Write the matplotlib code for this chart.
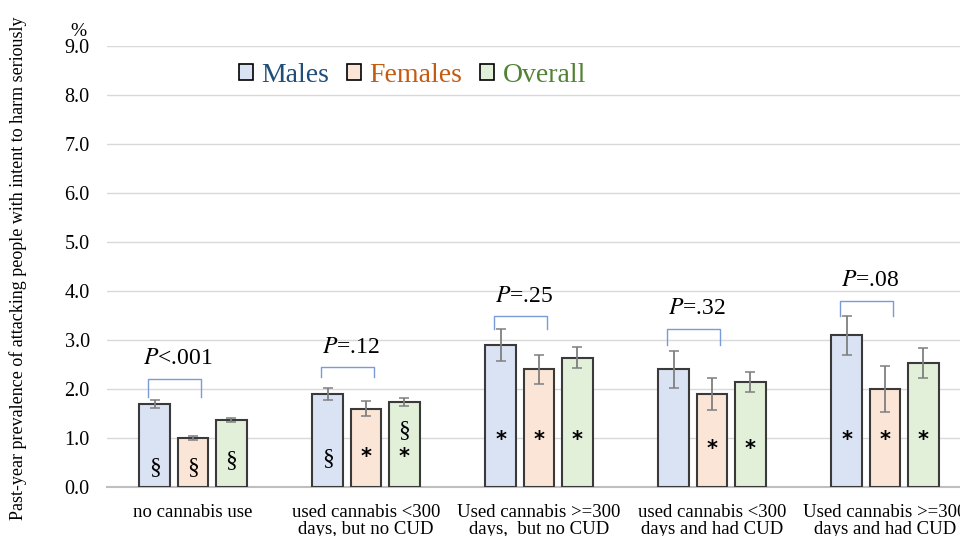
import matplotlib
matplotlib.use("Agg")
import matplotlib.pyplot as plt
import numpy as np
from matplotlib.patches import Rectangle

plt.rcParams['font.family'] = ['Liberation Serif', 'DejaVu Serif']

categories = ["no cannabis use",
              "used cannabis <300\ndays, but no CUD",
              "Used cannabis >=300\ndays,  but no CUD",
              "used cannabis <300\ndays and had CUD",
              "Used cannabis >=300\ndays and had CUD"]
series = ["Males", "Females", "Overall"]
males = [1.70, 1.90, 2.90, 2.40, 3.10]
females = [1.00, 1.60, 2.40, 1.90, 2.00]
overall = [1.37, 1.73, 2.64, 2.14, 2.53]
males_err = [0.08, 0.12, 0.32, 0.38, 0.40]
females_err = [0.05, 0.15, 0.29, 0.33, 0.47]
overall_err = [0.04, 0.08, 0.22, 0.20, 0.31]
p_labels = ["<.001", "=.12", "=.25", "=.32", "=.08"]
markers_m = ["§", "§", "*", "", "*"]
markers_f = ["§", "*", "*", "*", "*"]
markers_o = ["§", "§*", "*", "*", "*"]
yticks = [0.0, 1.0, 2.0, 3.0, 4.0, 5.0, 6.0, 7.0, 8.0, 9.0]

fills = ["#DAE3F3", "#FBE5D6", "#E2F0D9"]
text_cols = ["#1F4E79", "#C55A11", "#548235"]

fig = plt.figure(figsize=(9.6, 5.36), dpi=100)
ax = fig.add_axes([106.5/960, 1-487/536, 865/960, 441/536])

x = np.arange(len(categories))
w = 0.178
off = 0.221
vals = [males, females, overall]
errs = [males_err, females_err, overall_err]
for i, (v, e) in enumerate(zip(vals, errs)):
    xp = x + (i-1)*off
    ax.bar(xp, v, width=w, color=fills[i], edgecolor="#3A3A3A", linewidth=1.5, zorder=3)
    ax.errorbar(xp, v, yerr=e, fmt='none', ecolor="#7F7F7F", elinewidth=1.3,
                capsize=3.5, capthick=1.1, zorder=4)

# significance markers inside bars
mpos = {
    0: [0.39, 0.39, 0.55],
    1: [0.59, 0.61, 0.61],
    2: [0.96, 0.96, 0.96],
    3: [0.78, 0.78, 0.78],
    4: [0.96, 0.96, 0.96],
}
for g in range(len(categories)):
    for i, mk in enumerate([markers_m[g], markers_f[g], markers_o[g]]):
        xp = x[g] + (i-1)*off
        y0 = mpos[g][i]
        if mk == "§*":
            ax.text(xp, 1.16, "§", ha="center", va="center", fontsize=17, zorder=5)
            ax.text(xp, y0, "*", ha="center", va="center", fontsize=15,
                    fontweight="bold", family="DejaVu Sans", zorder=5)
        elif mk == "§":
            ax.text(xp, y0, "§", ha="center", va="center", fontsize=17, zorder=5)
        elif mk == "*":
            ax.text(xp, y0, "*", ha="center", va="center", fontsize=15,
                    fontweight="bold", family="DejaVu Sans", zorder=5)

# P-value brackets
br_top = [2.20, 2.44, 3.48, 3.22, 3.80]
br_drop = [0.36, 0.19, 0.26, 0.32, 0.32]
for g in range(len(categories)):
    x1 = x[g] - off - 0.04
    x2 = x[g] + 0.045
    t = br_top[g]
    ax.plot([x1, x1, x2, x2], [t-br_drop[g], t, t, t-br_drop[g]], color="#7A9BD8",
            linewidth=1.0, zorder=5)
    ax.text((x1+x2)/2 + 0.02, t+0.2, "$\\it{P}$" + p_labels[g], ha="center", va="bottom",
            fontsize=17, math_fontfamily="stix")

ax.set_xlim(-0.5, len(categories)-0.5)
ax.set_ylim(0, 9)
ax.set_yticks(yticks)
ax.set_yticklabels([f"{t:.1f}" for t in yticks], fontsize=14.5)
ax.set_xticks(x)
ax.set_xticklabels(categories, fontsize=13.5, linespacing=1.05)
ax.tick_params(axis="y", length=0, pad=12)
ax.tick_params(axis="x", length=0, pad=12)
ax.yaxis.grid(True, color="#D9D9D9", linewidth=1.0, zorder=0)
ax.set_axisbelow(True)
for s in ["top", "right", "left"]:
    ax.spines[s].set_visible(False)
ax.spines["bottom"].set_color("#BFBFBF")
ax.spines["bottom"].set_linewidth(1.5)

fig.text(18/960, 1-268/536, "Past-year prevalence of attacking people with intent to harm seriously",
         rotation=90, ha="center", va="center", fontsize=13)
fig.text(78/960, 1-31/536, "%", ha="center", va="center", fontsize=14)

# legend
handles = [Rectangle((0, 0), 1, 1, facecolor=fills[i], edgecolor="#000000", linewidth=1.2)
           for i in range(3)]
leg = ax.legend(handles, series, loc="upper left", ncol=3, frameon=False, fontsize=20,
                handlelength=0.5, handleheight=0.5, handletextpad=0.3, columnspacing=0.65)
leg.set_bbox_to_anchor((214/960, 1-38/536), transform=fig.transFigure)
for t, c in zip(leg.get_texts(), text_cols):
    t.set_color(c)

fig.savefig("out.png", dpi=100)
